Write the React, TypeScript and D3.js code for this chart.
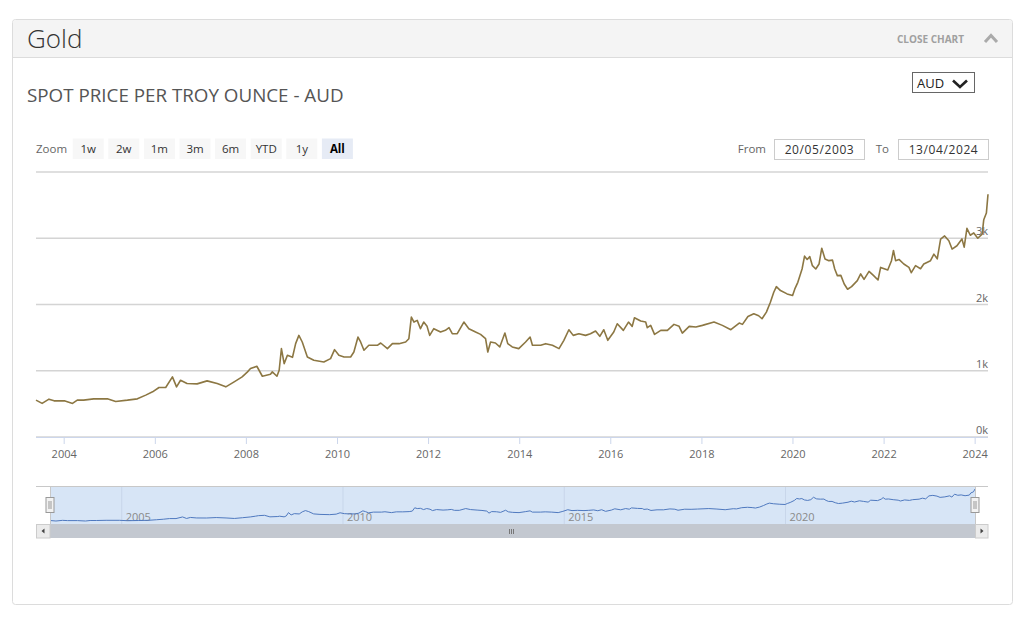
import * as React from "react";
import * as d3 from "d3";

const priceDates = [
	"2003-05-20", "2003-07-08", "2003-09-01", "2003-10-12", "2004-01-02", "2004-03-08", "2004-04-15", "2004-06-05",
	"2004-08-25", "2004-12-12", "2005-02-17", "2005-05-22", "2005-08-10", "2005-10-16", "2005-12-10", "2006-01-30",
	"2006-03-25", "2006-05-18", "2006-06-20", "2006-07-22", "2006-09-12", "2006-12-02", "2007-02-20", "2007-05-12",
	"2007-07-20", "2007-09-25", "2007-11-28", "2008-01-10", "2008-02-03", "2008-03-25", "2008-05-08", "2008-07-12",
	"2008-07-27", "2008-09-02", "2008-09-20", "2008-10-08", "2008-10-30", "2008-11-25", "2009-01-05", "2009-01-30",
	"2009-02-25", "2009-03-24", "2009-05-04", "2009-06-25", "2009-09-13", "2009-11-06", "2009-12-08", "2010-01-12",
	"2010-02-22", "2010-04-16", "2010-05-12", "2010-06-14", "2010-07-05", "2010-08-01", "2010-09-09", "2010-11-16",
	"2010-12-13", "2011-02-05", "2011-03-17", "2011-05-09", "2011-07-01", "2011-07-27", "2011-08-16", "2011-09-06",
	"2011-10-02", "2011-10-28", "2011-11-23", "2011-12-20", "2012-01-10", "2012-02-12", "2012-04-06", "2012-05-15",
	"2012-06-13", "2012-07-09", "2012-08-18", "2012-10-10", "2012-11-19", "2013-01-12", "2013-02-21", "2013-04-02",
	"2013-04-20", "2013-05-12", "2013-06-20", "2013-07-25", "2013-09-04", "2013-09-27", "2013-11-02", "2013-12-24",
	"2014-02-17", "2014-03-25", "2014-04-13", "2014-06-18", "2014-07-28", "2014-09-20", "2014-11-12", "2014-12-21",
	"2015-01-30", "2015-03-06", "2015-04-20", "2015-06-13", "2015-07-22", "2015-09-01", "2015-10-05", "2015-11-06",
	"2015-12-08", "2016-01-25", "2016-02-22", "2016-04-11", "2016-05-22", "2016-06-21", "2016-07-09", "2016-08-28",
	"2016-10-07", "2016-10-20", "2016-11-16", "2016-12-17", "2017-02-05", "2017-03-30", "2017-05-22", "2017-07-02",
	"2017-07-28", "2017-09-21", "2017-11-13", "2018-01-05", "2018-04-08", "2018-06-14", "2018-08-21", "2018-10-27",
	"2018-11-22", "2019-01-05", "2019-02-21", "2019-04-01", "2019-04-28", "2019-06-02", "2019-07-04", "2019-07-31",
	"2019-08-21", "2019-09-23", "2019-11-15", "2019-12-29", "2020-01-16", "2020-02-09", "2020-03-14", "2020-04-03",
	"2020-04-24", "2020-05-15", "2020-06-05", "2020-07-02", "2020-07-28", "2020-08-19", "2020-09-14", "2020-10-15",
	"2020-11-13", "2020-12-01", "2020-12-22", "2021-01-19", "2021-02-15", "2021-03-14", "2021-04-15", "2021-05-31",
	"2021-06-27", "2021-07-24", "2021-09-02", "2021-10-07", "2021-11-13", "2021-12-04", "2022-01-30", "2022-03-01",
	"2022-03-17", "2022-04-03", "2022-04-30", "2022-06-08", "2022-07-19", "2022-08-07", "2022-09-10", "2022-10-20",
	"2022-11-15", "2023-01-08", "2023-02-04", "2023-03-03", "2023-03-30", "2023-05-01", "2023-06-04", "2023-06-30",
	"2023-08-08", "2023-09-17", "2023-10-05", "2023-10-27", "2023-11-23", "2023-12-21", "2024-01-22", "2024-02-26",
	"2024-03-10", "2024-03-31", "2024-04-13",
];

const priceValues = [
	556, 507, 571, 546, 546, 507, 556, 556,
	576, 576, 537, 556, 576, 632, 682, 747,
	747, 907, 757, 857, 807, 802, 847, 807,
	757, 832, 907, 983, 1033, 1068, 917, 948,
	983, 917, 1008, 1334, 1108, 1233, 1203, 1409,
	1534, 1434, 1208, 1158, 1133, 1183, 1319, 1233,
	1208, 1208, 1283, 1509, 1434, 1309, 1384, 1384,
	1419, 1334, 1409, 1409, 1434, 1484, 1810, 1735,
	1760, 1635, 1735, 1670, 1534, 1635, 1584, 1610,
	1650, 1559, 1559, 1735, 1635, 1584, 1549, 1484,
	1283, 1434, 1419, 1359, 1569, 1409, 1359, 1334,
	1434, 1509, 1384, 1384, 1409, 1384, 1334, 1459,
	1619, 1534, 1559, 1534, 1559, 1599, 1519, 1619,
	1459, 1584, 1710, 1610, 1735, 1670, 1800, 1750,
	1735, 1650, 1685, 1549, 1610, 1610, 1700, 1670,
	1569, 1670, 1660, 1685, 1735, 1685, 1619, 1720,
	1700, 1820, 1860, 1830, 1785, 1885, 2035, 2185,
	2270, 2210, 2160, 2135, 2235, 2335, 2536, 2730,
	2680, 2722, 2586, 2536, 2611, 2850, 2687, 2662,
	2670, 2536, 2436, 2440, 2310, 2230, 2270, 2360,
	2461, 2380, 2501, 2440, 2370, 2560, 2520, 2661,
	2815, 2661, 2680, 2611, 2561, 2480, 2586, 2540,
	2611, 2661, 2760, 2690, 2987, 3035, 2962, 2837,
	2887, 2990, 2866, 3150, 3045, 3080, 3000, 3062,
	3280, 3380, 3664,
];

const yTicks = [0, 1000, 2000, 3000, 4000];
const yTickLabels = ["0k", "1k", "2k", "3k", ""];
const rangeButtons = ["1w", "2w", "1m", "3m", "6m", "YTD", "1y", "All"];
const fromDate = "20/05/2003";
const toDate = "13/04/2024";

const FONT = "'Open Sans', 'DejaVu Sans', sans-serif";
const LINE_COLOR = "#8c7743";
const NAV_COLOR = "#4f79bf";

export default function App() {
	const width = 1024;
	const height = 618;

	const parse = d3.timeParse("%Y-%m-%d");
	const data = priceDates.map((d, i) => ({ date: parse(d)!, value: priceValues[i] }));
	const domain = d3.extent(data, (d) => d.date) as [Date, Date];

	// main plot
	const plotLeft = 36;
	const plotRight = 988;
	const plotTop = 172;
	const plotBottom = 437;
	const xScale = d3.scaleTime().domain(domain).range([plotLeft, plotRight]);
	const yScale = d3.scaleLinear().domain([0, 4000]).range([plotBottom, plotTop]);
	const line = d3
		.line<{ date: Date; value: number }>()
		.x((d) => xScale(d.date))
		.y((d) => yScale(d.value));
	const xTicks = xScale.ticks(d3.timeYear.every(2)!);

	// navigator
	const navLeft = 50;
	const navRight = 975;
	const navTop = 486;
	const navBottom = 524;
	const navX = d3.scaleTime().domain(domain).range([navLeft, navRight]);
	const navY = d3
		.scaleLinear()
		.domain(d3.extent(data, (d) => d.value) as [number, number])
		.range([navBottom - 3, navTop + 3]);
	const navLine = d3
		.line<{ date: Date; value: number }>()
		.x((d) => navX(d.date))
		.y((d) => navY(d.value));
	const navTicks = navX.ticks(d3.timeYear.every(5)!);

	const btnX0 = 72.7;
	const btnStep = 35.6;

	return (
		<svg
			width={width}
			height={height}
			style={{ position: "absolute", left: 0, top: 0, display: "block", background: "#fff" }}
			fontFamily={FONT}
		>
			{/* panel */}
			<rect x={12.5} y={19.5} width={1000} height={585} rx={3} fill="#fff" stroke="#dcdcdc" />
			<path d="M13,57 V23 Q13,20 16,20 H1009 Q1012,20 1012,23 V57 Z" fill="#f4f4f4" />
			<line x1={13} x2={1012} y1={57.5} y2={57.5} stroke="#dcdcdc" />
			<text x={27} y={48} fontSize={26} fontWeight={300} fill="#333">
				Gold
			</text>
			<text x={897} y={43} fontSize={10} fontWeight={700} fill="#a0a0a0">
				CLOSE CHART
			</text>
			<path d="M985,42 L991,35.5 L997,42" fill="none" stroke="#aaa" strokeWidth={3} />

			{/* title + currency select */}
			<text x={27} y={102} fontSize={18.8} fill="#555">
				SPOT PRICE PER TROY OUNCE - AUD
			</text>
			<rect x={912.5} y={72.5} width={62} height={20} fill="#fff" stroke="#666" />
			<text x={917} y={88} fontSize={13} fill="#222">
				AUD
			</text>
			<path d="M953,80.5 L960,87 L967,80.5" fill="none" stroke="#222" strokeWidth={2.6} />

			{/* range selector */}
			<text x={36} y={153} fontSize={11.5} fill="#666">
				Zoom
			</text>
			{rangeButtons.map((b, i) => {
				const x = btnX0 + i * btnStep;
				const active = b === "All";
				return (
					<g key={b}>
						<rect x={x} y={138.5} width={31} height={20.5} fill={active ? "#e6ebf5" : "#f7f7f7"} />
						<text
							x={x + 15.5}
							y={153}
							fontSize={11.5}
							textAnchor="middle"
							fontWeight={active ? 700 : 400}
							fill={active ? "#000" : "#333"}
						>
							{b}
						</text>
					</g>
				);
			})}
			<text x={766} y={153} fontSize={11.5} fill="#666" textAnchor="end">
				From
			</text>
			<rect x={774.5} y={139.5} width={90} height={20} fill="#fff" stroke="#ccc" />
			<text x={819.5} y={154} fontSize={12} fill="#333" textAnchor="middle" letterSpacing={0.6}>
				{fromDate}
			</text>
			<text x={889} y={153} fontSize={11.5} fill="#666" textAnchor="end">
				To
			</text>
			<rect x={898.5} y={139.5} width={90} height={20} fill="#fff" stroke="#ccc" />
			<text x={943.5} y={154} fontSize={12} fill="#333" textAnchor="middle" letterSpacing={0.6}>
				{toDate}
			</text>

			{/* grid + y labels */}
			{yTicks.map((t, i) => (
				<g key={t}>
					<line x1={plotLeft} x2={plotRight} y1={yScale(t)} y2={yScale(t)} stroke="#d4d4d4" strokeWidth={1.3} />
					{yTickLabels[i] && (
						<text x={plotRight} y={yScale(t) - 3} fontSize={11} fill="#666" textAnchor="end">
							{yTickLabels[i]}
						</text>
					)}
				</g>
			))}
			<line x1={plotLeft} x2={plotRight} y1={plotBottom + 0.5} y2={plotBottom + 0.5} stroke="#ccd6eb" />
			{xTicks.map((t) => (
				<g key={+t}>
					<line x1={xScale(t)} x2={xScale(t)} y1={plotBottom} y2={plotBottom + 7} stroke="#ccd6eb" />
					<text x={xScale(t)} y={458} fontSize={11} fill="#666" textAnchor="middle">
						{d3.timeFormat("%Y")(t)}
					</text>
				</g>
			))}

			{/* series */}
			<path d={line(data) ?? ""} fill="none" stroke={LINE_COLOR} strokeWidth={1.6} strokeLinejoin="round" />

			{/* navigator */}
			<rect x={navLeft} y={navTop} width={navRight - navLeft} height={navBottom - navTop} fill="#d7e5f6" />
			{navTicks.map((t) => (
				<g key={+t}>
					<line x1={navX(t)} x2={navX(t)} y1={navTop} y2={navBottom} stroke="#c8d6ea" />
					<text x={navX(t) + 4} y={521} fontSize={11} fill="#8a8a8a">
						{d3.timeFormat("%Y")(t)}
					</text>
				</g>
			))}
			<path d={navLine(data) ?? ""} fill="none" stroke={NAV_COLOR} strokeWidth={1} />
			<line x1={plotLeft} x2={plotRight} y1={navTop + 0.5} y2={navTop + 0.5} stroke="#c8c8c8" />
			<line x1={navLeft + 0.5} x2={navLeft + 0.5} y1={navTop} y2={navBottom} stroke="#c8c8c8" />
			<line x1={navRight + 0.5} x2={navRight + 0.5} y1={navTop} y2={navBottom} stroke="#c8c8c8" />
			{[navLeft, navRight].map((hx) => (
				<g key={hx}>
					<rect x={hx - 4} y={497.5} width={8} height={15} fill="#f2f2f2" stroke="#999" />
					<line x1={hx - 1} x2={hx - 1} y1={501} y2={509} stroke="#999" />
					<line x1={hx + 1} x2={hx + 1} y1={501} y2={509} stroke="#999" />
				</g>
			))}

			{/* scrollbar */}
			<rect x={navLeft} y={navBottom} width={navRight - navLeft} height={14} fill="#c3c8d0" />
			<rect x={36.5} y={524.5} width={13.5} height={13.5} fill="#ebebeb" stroke="#ccc" />
			<path d="M41.5,531 L44.5,528.5 L44.5,533.5 Z" fill="#444" />
			<rect x={975.5} y={524.5} width={12.5} height={13.5} fill="#ebebeb" stroke="#ccc" />
			<path d="M983.5,531 L980.5,528.5 L980.5,533.5 Z" fill="#444" />
			{[-2, 0, 2].map((dx) => (
				<line key={dx} x1={511.5 + dx} x2={511.5 + dx} y1={529} y2={534} stroke="#777" />
			))}
		</svg>
	);
}
